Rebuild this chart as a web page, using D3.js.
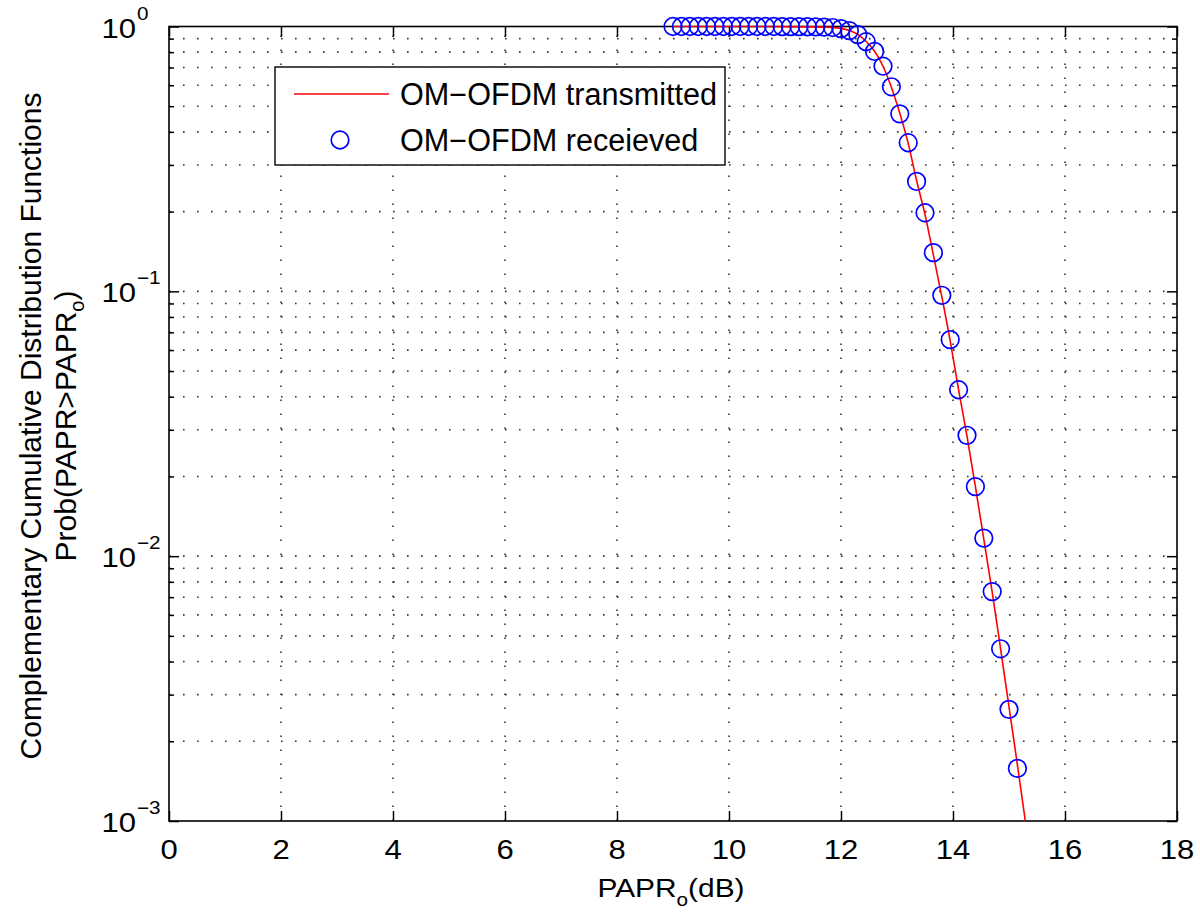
<!DOCTYPE html>
<html>
<head>
<meta charset="utf-8">
<script src="https://cdn.jsdelivr.net/npm/d3@7"></script>
<style>
  html, body { margin: 0; padding: 0; background: #fff; }
  svg { display: block; font-family: "Liberation Sans", Arial, Helvetica, sans-serif; }
</style>
</head>
<body>
<svg id="chart" width="1200" height="915"></svg>
<script>
// ---- data ----
const xTicks = [0, 2, 4, 6, 8, 10, 12, 14, 16, 18];
const yTickExps = [0, -1, -2, -3];
const seriesNames = ["OM\u2212OFDM transmitted", "OM\u2212OFDM receieved"];

// received (circle markers), PAPR0 in dB
const rxX = [9.0, 9.15, 9.3, 9.45, 9.6, 9.75, 9.9, 10.05, 10.2, 10.35, 10.5, 10.65, 10.8, 10.95, 11.1, 11.25, 11.4, 11.55, 11.7,
             11.85, 12.0, 12.15, 12.3, 12.45, 12.6, 12.75, 12.9, 13.05, 13.2, 13.35, 13.5, 13.65, 13.8, 13.95, 14.1, 14.25, 14.4, 14.55, 14.7, 14.85, 15.0, 15.15];
const rxY = [1.0, 1.0, 1.0, 1.0, 1.0, 1.0, 1.0, 1.0, 1.0, 1.0, 1.0, 1.0, 1.0, 0.999, 0.999, 0.999, 0.998, 0.997, 0.995,
             0.991, 0.982, 0.965, 0.932, 0.876, 0.805, 0.708, 0.592, 0.468, 0.364, 0.260, 0.198, 0.140, 0.0966, 0.0657, 0.0425, 0.0286, 0.0183, 0.0117, 0.00735, 0.00447, 0.00264, 0.00158];

// transmitted (red line)
const txX = [9.0, 10.0, 11.0, 11.5, 11.8, 12.0, 12.15, 12.3, 12.45, 12.6, 12.75, 12.9, 13.05, 13.2, 13.35, 13.5, 13.65, 13.8, 13.95, 14.1, 14.25, 14.4, 14.55, 14.7, 14.85, 15.0, 15.15, 15.3];
const txY = [1.0, 1.0, 0.999, 0.997, 0.993, 0.984, 0.966, 0.934, 0.878, 0.806, 0.708, 0.590, 0.470, 0.362, 0.262, 0.195, 0.137, 0.0955, 0.0650, 0.0425, 0.0284, 0.0183, 0.0116, 0.00732, 0.00447, 0.00270, 0.00163, 0.00097];

// ---- layout ----
const svg = d3.select("#chart");
const L = 169, R = 1177, T = 26.5, B = 821;
const x = d3.scaleLinear().domain([0, 18]).range([L, R]);
const y = d3.scaleLog().domain([1e-3, 1]).range([B, T]);

const gridColor = "#333";
const minorVals = [];
for (let e = -3; e < 0; e++) for (let m = 2; m <= 9; m++) minorVals.push(m * Math.pow(10, e));
const majorVals = yTickExps.map(e => Math.pow(10, e));

// grid (dotted)
const grid = svg.append("g");
grid.selectAll("line.hg").data(minorVals.concat(majorVals.filter(v => v < 1 && v > 1e-3)))
  .join("line").attr("x1", L).attr("x2", R)
  .attr("y1", d => y(d)).attr("y2", d => y(d))
  .attr("stroke", gridColor).attr("stroke-width", 1.6).attr("stroke-dasharray", "1.6,12.4");
grid.selectAll("line.vg").data(xTicks.filter(d => d > 0 && d < 18))
  .join("line").attr("y1", B).attr("y2", T)
  .attr("x1", d => x(d)).attr("x2", d => x(d))
  .attr("stroke", gridColor).attr("stroke-width", 1.6).attr("stroke-dasharray", "1.6,12.4");

// ticks (inward, both sides) using d3 axes
const axB = svg.append("g").attr("transform", `translate(0,${B})`)
  .call(d3.axisTop(x).tickValues(xTicks).tickSize(10).tickFormat(""));
const axT = svg.append("g").attr("transform", `translate(0,${T})`)
  .call(d3.axisBottom(x).tickValues(xTicks).tickSize(10).tickFormat(""));
const axL = svg.append("g").attr("transform", `translate(${L},0)`)
  .call(d3.axisRight(y).tickValues(majorVals).tickSize(10).tickFormat(""));
const axLm = svg.append("g").attr("transform", `translate(${L},0)`)
  .call(d3.axisRight(y).tickValues(minorVals).tickSize(5).tickFormat(""));
const axR = svg.append("g").attr("transform", `translate(${R},0)`)
  .call(d3.axisLeft(y).tickValues(majorVals).tickSize(10).tickFormat(""));
const axRm = svg.append("g").attr("transform", `translate(${R},0)`)
  .call(d3.axisLeft(y).tickValues(minorVals).tickSize(5).tickFormat(""));
[axB, axT, axL, axLm, axR, axRm].forEach(g => {
  g.select(".domain").remove();
  g.selectAll(".tick line").attr("stroke", "#000").attr("stroke-width", 1.5);
});

// frame
svg.append("rect").attr("x", L).attr("y", T).attr("width", R - L).attr("height", B - T)
  .attr("fill", "none").attr("stroke", "#000").attr("stroke-width", 1.6);

// clip
svg.append("clipPath").attr("id", "clip").append("rect")
  .attr("x", L).attr("y", T - 1).attr("width", R - L).attr("height", B - T + 1);

// red line
const lineData = txX.map((v, i) => [v, txY[i]]);
svg.append("path").datum(lineData)
  .attr("clip-path", "url(#clip)")
  .attr("d", d3.line().x(d => x(d[0])).y(d => y(d[1])).curve(d3.curveMonotoneX))
  .attr("fill", "none").attr("stroke", "#ff0000").attr("stroke-width", 1.6);

// circles
const rxData = rxX.map((v, i) => [v, rxY[i]]);
svg.append("g").selectAll("circle").data(rxData).join("circle")
  .attr("cx", d => x(d[0])).attr("cy", d => y(d[1])).attr("r", 8.8)
  .attr("fill", "none").attr("stroke", "#0000ff").attr("stroke-width", 1.7);

// x tick labels
const SX = 1.15;
svg.append("g").selectAll("text").data(xTicks).join("text")
  .attr("transform", d => `translate(${x(d)},859) scale(${SX},1)`)
  .attr("text-anchor", "middle").attr("font-size", 27).attr("fill", "#000")
  .text(d => d);

// y tick labels 10^e
const yl = svg.append("g").selectAll("g").data(yTickExps).join("g");
yl.append("text")
  .attr("transform", d => `translate(136,${y(Math.pow(10, d)) + 11}) scale(${SX},1)`)
  .attr("text-anchor", "end").attr("font-size", 27).attr("fill", "#000").text("10");
yl.append("text")
  .attr("transform", d => `translate(137,${y(Math.pow(10, d)) - 7}) scale(${SX},1)`)
  .attr("text-anchor", "start").attr("font-size", 18).attr("fill", "#000")
  .text(d => d === 0 ? "0" : "\u2212" + Math.abs(d));

// x label
const xlab = svg.append("text").attr("transform", `translate(${(L + R) / 2 - 2},897) scale(${SX},1)`)
  .attr("text-anchor", "middle").attr("font-size", 26).attr("fill", "#000");
xlab.append("tspan").text("PAPR");
xlab.append("tspan").attr("font-size", 18).attr("dy", 9).text("o");
xlab.append("tspan").attr("dy", -9).text("(dB)");

// y label (two lines)
const cy = 426;
svg.append("text").attr("transform", `translate(41,${cy}) rotate(-90)`)
  .attr("text-anchor", "middle").attr("font-size", 30).attr("fill", "#000")
  .text("Complementary Cumulative Distribution Functions");
const yl2 = svg.append("text").attr("transform", `translate(76,${cy}) rotate(-90)`)
  .attr("text-anchor", "middle").attr("font-size", 30).attr("fill", "#000");
yl2.append("tspan").text("Prob(PAPR>PAPR");
yl2.append("tspan").attr("font-size", 20).attr("dy", 8).text("o");
yl2.append("tspan").attr("dy", -8).text(")");

// legend
const lg = svg.append("g");
lg.append("rect").attr("x", 275).attr("y", 67).attr("width", 450).attr("height", 98)
  .attr("fill", "#fff").attr("stroke", "#000").attr("stroke-width", 1.4);
lg.append("line").attr("x1", 294).attr("x2", 389).attr("y1", 94).attr("y2", 94)
  .attr("stroke", "#ff0000").attr("stroke-width", 1.6);
lg.append("circle").attr("cx", 340).attr("cy", 140).attr("r", 8.8)
  .attr("fill", "none").attr("stroke", "#0000ff").attr("stroke-width", 1.7);
lg.selectAll("text.lt").data(seriesNames).join("text")
  .attr("x", 400).attr("y", (d, i) => 105 + i * 46)
  .attr("font-size", 30.6).attr("fill", "#000").text(d => d);
</script>
</body>
</html>
